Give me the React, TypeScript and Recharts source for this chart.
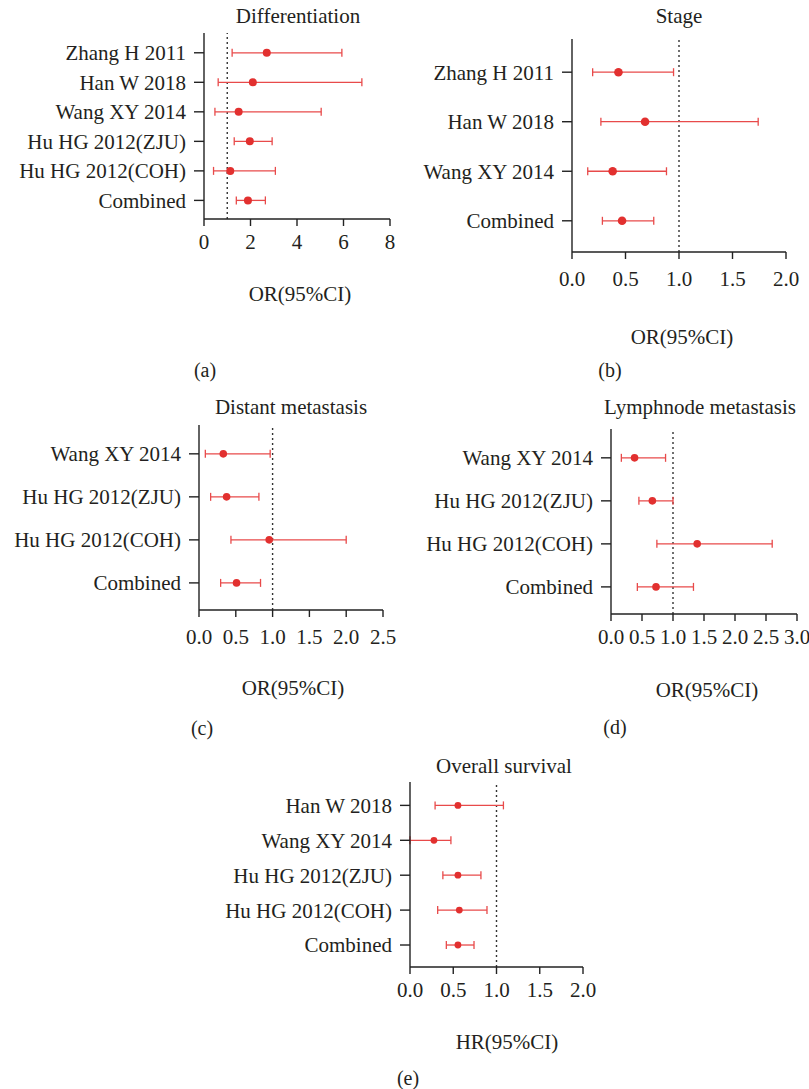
import React from "react";
import { ScatterChart, Scatter, XAxis, YAxis, ErrorBar, ReferenceLine } from "recharts";

// Panel (a) Differentiation
const diffStudies = ["Zhang H 2011", "Han W 2018", "Wang XY 2014", "Hu HG 2012(ZJU)", "Hu HG 2012(COH)", "Combined"];
const diffOR = [2.7, 2.1, 1.49, 1.97, 1.13, 1.89];
const diffLow = [1.21, 0.61, 0.47, 1.3, 0.41, 1.39];
const diffHigh = [5.93, 6.79, 5.04, 2.93, 3.07, 2.64];
const diffTicks = [0, 2, 4, 6, 8];

// Panel (b) Stage
const stageStudies = ["Zhang H 2011", "Han W 2018", "Wang XY 2014", "Combined"];
const stageOR = [0.434, 0.683, 0.38, 0.468];
const stageLow = [0.193, 0.27, 0.147, 0.284];
const stageHigh = [0.949, 1.74, 0.883, 0.764];
const stageTicks = [0, 0.5, 1, 1.5, 2];

// Panel (c) Distant metastasis
const distStudies = ["Wang XY 2014", "Hu HG 2012(ZJU)", "Hu HG 2012(COH)", "Combined"];
const distOR = [0.33, 0.375, 0.954, 0.51];
const distLow = [0.086, 0.158, 0.434, 0.294];
const distHigh = [0.967, 0.814, 2.0, 0.836];
const distTicks = [0, 0.5, 1, 1.5, 2, 2.5];

// Panel (d) Lymphnode metastasis
const lymphStudies = ["Wang XY 2014", "Hu HG 2012(ZJU)", "Hu HG 2012(COH)", "Combined"];
const lymphOR = [0.38, 0.667, 1.39, 0.726];
const lymphLow = [0.167, 0.45, 0.74, 0.425];
const lymphHigh = [0.88, 1.0, 2.6, 1.33];
const lymphTicks = [0, 0.5, 1, 1.5, 2, 2.5, 3];

// Panel (e) Overall survival
const osStudies = ["Han W 2018", "Wang XY 2014", "Hu HG 2012(ZJU)", "Hu HG 2012(COH)", "Combined"];
const osHR = [0.554, 0.277, 0.554, 0.57, 0.554];
const osLow = [0.29, 0.0, 0.38, 0.32, 0.42];
const osHigh = [1.08, 0.473, 0.82, 0.89, 0.74];
const osTicks = [0, 0.5, 1, 1.5, 2];

const FONT = '"Liberation Serif", "DejaVu Serif", serif';
const TEXT = "#231f20";
const RED_DOT = "#e2302f";
const RED_LINE = "#e84a4a";
const FS = 21;

interface PanelProps {
  studies: string[];
  est: number[];
  low: number[];
  high: number[];
  ticks: number[];
  digits: number;
  // plot area in page coords
  px: number;
  py: number;
  pw: number;
  ph: number;
  tickGap: number;
  dotR: number;
}

const Panel = ({ studies, est, low, high, ticks, digits, px, py, pw, ph, tickGap, dotR }: PanelProps) => {
  const data = studies.map((s, i) => ({
    row: i,
    est: est[i],
    err: [est[i] - low[i], high[i] - est[i]],
  }));
  const left = 230;
  const top = 10;
  const bottom = 50;
  const right = 30;
  const n = studies.length;

  return (
    <div style={{ position: "absolute", left: px - left, top: py - top }}>
      <ScatterChart
        width={pw + left + right}
        height={ph + top + bottom}
        margin={{ top, right, left: 0, bottom: 0 }}
      >
        <XAxis
          type="number"
          dataKey="est"
          domain={[ticks[0], ticks[ticks.length - 1]]}
          ticks={ticks}
          interval={0}
          tickFormatter={(v: number) => v.toFixed(digits)}
          stroke="#222"
          strokeWidth={1.4}
          tickSize={7}
          tickMargin={tickGap}
          tick={{ fill: TEXT, fontSize: FS, fontFamily: FONT }}
          height={bottom}
        />
        <YAxis
          type="number"
          dataKey="row"
          reversed
          domain={[-0.67, n - 0.37]}
          ticks={studies.map((_, i) => i)}
          interval={0}
          tickFormatter={(v: number) => studies[v] ?? ""}
          stroke="#222"
          strokeWidth={1.4}
          tickSize={10}
          tickMargin={8}
          tick={{ fill: TEXT, fontSize: FS, fontFamily: FONT }}
          width={left}
        />
        <ReferenceLine x={1} stroke="#333" strokeDasharray="2 3" strokeWidth={1.4} />
        <Scatter
          data={data}
          isAnimationActive={false}
          shape={(p: any) => <circle cx={p.cx} cy={p.cy} r={dotR} fill={RED_DOT} />}
        >
          <ErrorBar dataKey="err" direction="x" width={4} stroke={RED_LINE} strokeWidth={1.3} />
        </Scatter>
      </ScatterChart>
    </div>
  );
};

const Txt = ({ x, y, size, children }: { x: number; y: number; size: number; children: React.ReactNode }) => (
  <div
    style={{
      position: "absolute",
      left: x,
      top: y,
      transform: "translate(-50%, -50%)",
      fontFamily: FONT,
      fontSize: size,
      color: TEXT,
      whiteSpace: "nowrap",
      lineHeight: 1,
    }}
  >
    {children}
  </div>
);

export default function App() {
  return (
    <div style={{ position: "absolute", left: 0, top: 0, width: 809, height: 1089, background: "#fff", overflow: "hidden" }}>
      <Panel studies={diffStudies} est={diffOR} low={diffLow} high={diffHigh} ticks={diffTicks} digits={0}
        px={204} py={33} pw={186} ph={186} tickGap={8} dotR={4} />
      <Panel studies={stageStudies} est={stageOR} low={stageLow} high={stageHigh} ticks={stageTicks} digits={1}
        px={572} py={39} pw={214} ph={213} tickGap={12} dotR={4.3} />
      <Panel studies={distStudies} est={distOR} low={distLow} high={distHigh} ticks={distTicks} digits={1}
        px={199} py={425} pw={184} ph={185} tickGap={12} dotR={3.8} />
      <Panel studies={lymphStudies} est={lymphOR} low={lymphLow} high={lymphHigh} ticks={lymphTicks} digits={1}
        px={611} py={429} pw={186} ph={185} tickGap={8} dotR={3.8} />
      <Panel studies={osStudies} est={osHR} low={osLow} high={osHigh} ticks={osTicks} digits={1}
        px={410} py={782} pw={173} ph={185} tickGap={8} dotR={3.4} />

      <Txt x={298} y={16} size={FS}>Differentiation</Txt>
      <Txt x={679} y={16} size={FS}>Stage</Txt>
      <Txt x={291} y={407} size={FS}>Distant metastasis</Txt>
      <Txt x={700} y={407} size={FS}>Lymphnode metastasis</Txt>
      <Txt x={504} y={766} size={FS}>Overall survival</Txt>

      <Txt x={300} y={294} size={FS}>OR(95%CI)</Txt>
      <Txt x={682} y={337} size={FS}>OR(95%CI)</Txt>
      <Txt x={293} y={688} size={FS}>OR(95%CI)</Txt>
      <Txt x={707} y={690} size={FS}>OR(95%CI)</Txt>
      <Txt x={507} y={1042} size={FS}>HR(95%CI)</Txt>

      <Txt x={205} y={370} size={20}>(a)</Txt>
      <Txt x={610} y={370} size={20}>(b)</Txt>
      <Txt x={202} y={728} size={20}>(c)</Txt>
      <Txt x={615} y={727} size={20}>(d)</Txt>
      <Txt x={408} y={1078} size={20}>(e)</Txt>
    </div>
  );
}
